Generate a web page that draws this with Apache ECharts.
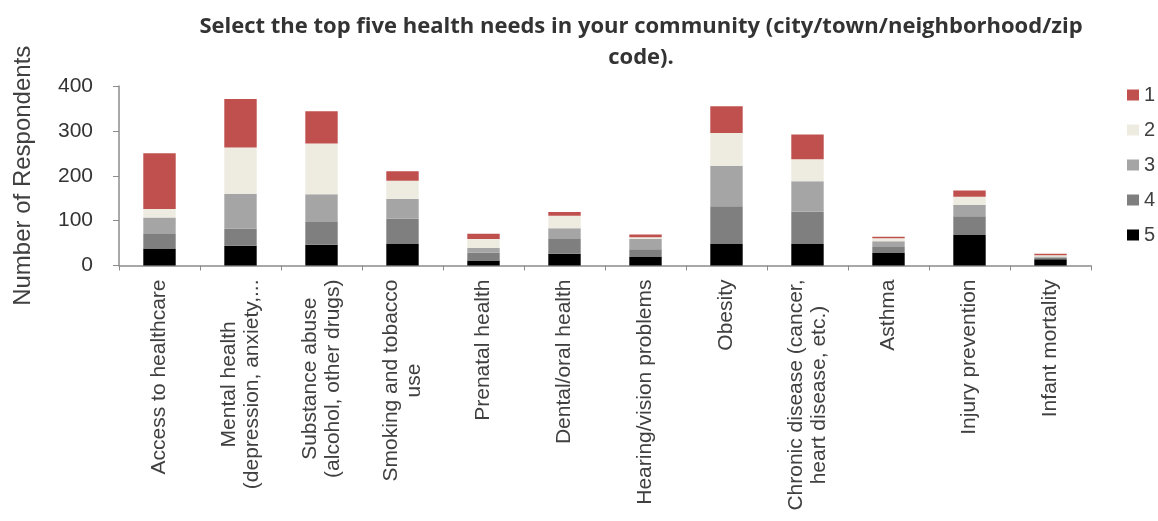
<!DOCTYPE html>
<html>
<head>
<meta charset="utf-8">
<script src="https://cdn.jsdelivr.net/npm/echarts@6/dist/echarts.min.js"></script>
<style>html,body{margin:0;padding:0;background:#fff}#c{width:1158px;height:521px}</style>
</head>
<body>
<div id="c"></div>
<script>
const categories = [
  "Access to healthcare",
  "Mental health\n(depression, anxiety,...",
  "Substance abuse\n(alcohol, other drugs)",
  "Smoking and tobacco\nuse",
  "Prenatal health",
  "Dental/oral health",
  "Hearing/vision problems",
  "Obesity",
  "Chronic disease (cancer,\nheart disease, etc.)",
  "Asthma",
  "Injury prevention",
  "Infant mortality"
];
const rank1 = [124, 108, 72, 21, 12, 8, 6, 60, 55, 3, 14, 3];
const rank2 = [19, 103, 113, 41, 20, 28, 4, 73, 49, 7, 18, 3];
const rank3 = [37, 78, 62, 44, 10, 24, 23, 90, 68, 13, 25, 3];
const rank4 = [32, 38, 51, 56, 18, 33, 17, 84, 72, 13, 42, 3];
const rank5 = [38, 44, 46, 48, 11, 26, 19, 48, 48, 28, 68, 14];
const yTicks = [0, 100, 200, 300, 400];
const seriesNames = ["1", "2", "3", "4", "5"];
const colors = {"1": "#C0504D", "2": "#EEECE1", "3": "#A5A5A5", "4": "#7F7F7F", "5": "#000000"};
const titleText = "Select the top five health needs in your community (city/town/neighborhood/zip\ncode).";
const yName = "Number of Respondents";

const dataByName = {"1": rank1, "2": rank2, "3": rank3, "4": rank4, "5": rank5};
const stackOrder = ["5", "4", "3", "2", "1"];

const chart = echarts.init(document.getElementById('c'), null, {renderer: 'canvas'});
chart.setOption({
  animation: false,
  backgroundColor: '#fff',
  title: {
    text: titleText,
    left: 636,
    top: 6,
    textAlign: 'center',
    textStyle: {fontFamily: 'Open Sans', fontWeight: 'bold', fontSize: 22, color: '#333333', lineHeight: 31}
  },
  legend: {
    orient: 'vertical',
    left: 1122,
    top: 80,
    data: seriesNames,
    icon: 'rect',
    itemWidth: 12,
    itemHeight: 11,
    itemGap: 15,
    textStyle: {fontFamily: 'Liberation Sans', fontSize: 20, color: '#404040', lineHeight: 20}
  },
  grid: {left: 119, right: 67, top: 86, bottom: 255.5, containLabel: false},
  xAxis: {
    type: 'category',
    data: categories,
    axisLine: {show: true, lineStyle: {color: '#8C8C8C', width: 1.5}},
    axisTick: {show: true, length: 5, lineStyle: {color: '#8C8C8C'}},
    axisLabel: {
      interval: 0,
      rotate: 90,
      margin: 14,
      fontFamily: 'Liberation Sans',
      fontSize: 21,
      color: '#404040',
      lineHeight: 23,
      formatter: function (v) { return v.split('\n').map(function (l) { return '{c|' + l + '}'; }).join('\n'); },
      rich: {c: {align: 'center', fontFamily: 'Liberation Sans', fontSize: 21, color: '#404040', lineHeight: 23}}
    }
  },
  yAxis: {
    type: 'value',
    min: yTicks[0],
    max: yTicks[yTicks.length - 1],
    interval: 100,
    name: yName,
    nameLocation: 'middle',
    nameGap: 84,
    nameTextStyle: {fontFamily: 'Liberation Sans', fontSize: 24, color: '#404040'},
    splitLine: {show: false},
    axisLine: {show: true, lineStyle: {color: '#8C8C8C', width: 1.5}},
    axisTick: {show: true, length: 6, lineStyle: {color: '#8C8C8C'}},
    axisLabel: {margin: 26, fontFamily: 'Liberation Sans', fontSize: 21, color: '#333333'}
  },
  series: stackOrder.map(function (n) {
    return {
      name: n,
      type: 'bar',
      stack: 'total',
      barWidth: '40%',
      itemStyle: {color: colors[n]},
      data: dataByName[n]
    };
  })
});
</script>
</body>
</html>
